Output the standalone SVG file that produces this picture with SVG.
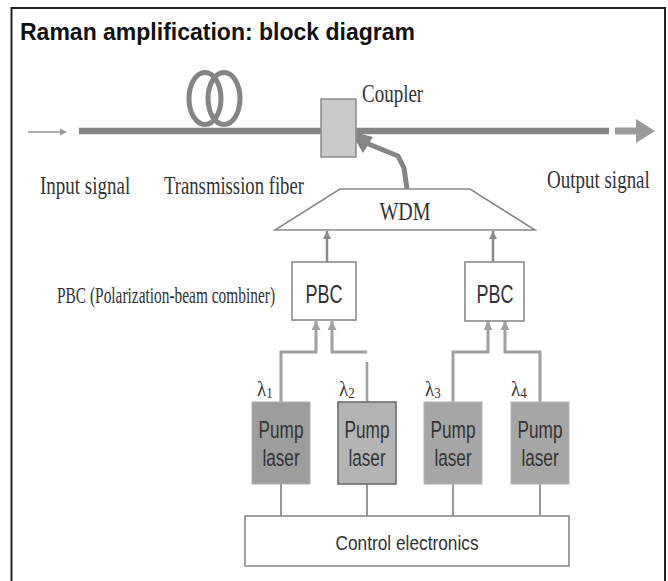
<svg xmlns="http://www.w3.org/2000/svg" width="668" height="581" viewBox="0 0 668 581">
<style>
.serif{font-family:"Liberation Serif","Times New Roman",serif;fill:#333;}
.sans{font-family:"Liberation Sans",Arial,sans-serif;fill:#333;}
.box{fill:#fff;stroke:#8a8a8a;stroke-width:1.6;}
.thin{fill:none;stroke:#9a9a9a;stroke-width:2;}
.feed{fill:none;stroke:#a0a0a0;stroke-width:3;}
.up{fill:none;stroke:#8a8a8a;stroke-width:2.5;}
</style>
<defs>
<marker id="ah" viewBox="0 0 10 10" refX="10" refY="5" markerWidth="3.2" markerHeight="3.2" orient="auto" markerUnits="strokeWidth">
<path d="M0,0 L10,5 L0,10 z" fill="#8a8a8a"/>
</marker>
<marker id="ah2" viewBox="0 0 10 10" refX="10" refY="5" markerWidth="3" markerHeight="3" orient="auto" markerUnits="strokeWidth">
<path d="M0,0 L10,5 L0,10 z" fill="#a0a0a0"/>
</marker>
</defs>
<rect x="0" y="0" width="668" height="581" fill="#fff"/>
<rect x="11.5" y="8" width="653.5" height="590" fill="none" stroke="#222" stroke-width="2"/>
<text x="20" y="40" class="sans" font-size="23" font-weight="bold" style="fill:#111">Raman amplification: block diagram</text>

<g id="connectors">
<line x1="28" y1="132" x2="62" y2="132" stroke="#9a9a9a" stroke-width="1.6"/>
<path d="M60,128.5 L67,132 L60,135.5 z" fill="#9a9a9a"/>
<line x1="79" y1="131" x2="609" y2="131" stroke="#858585" stroke-width="6.5"/>
<line x1="615" y1="131" x2="638" y2="131" stroke="#9a9a9a" stroke-width="7"/>
<path d="M636,119 L655,131 L636,143 z" fill="#9a9a9a"/>
<polyline points="407,189 404,168 398,156 366,143" fill="none" stroke="#858585" stroke-width="5" stroke-linejoin="round"/>
<path d="M350,131 L373,137 L363,153 z" fill="#858585"/>
<line x1="327" y1="262" x2="327" y2="231" class="up" marker-end="url(#ah)"/>
<line x1="493" y1="262" x2="493" y2="231" class="up" marker-end="url(#ah)"/>
<polyline points="281,402 281,352 316,352 316,321" class="feed" marker-end="url(#ah2)"/>
<polyline points="367,352 332,352 332,321" class="feed" marker-end="url(#ah2)"/>
<line x1="367" y1="362" x2="367" y2="402" stroke="#a0a0a0" stroke-width="2.6"/>
<polyline points="453,402 453,352 488,352 488,321" class="feed" marker-end="url(#ah2)"/>
<polyline points="540,402 540,352 505,352 505,321" class="feed" marker-end="url(#ah2)"/>
<line x1="281" y1="484" x2="281" y2="516" class="thin"/>
<line x1="367" y1="484" x2="367" y2="516" class="thin"/>
<line x1="453" y1="484" x2="453" y2="516" class="thin"/>
<line x1="540" y1="484" x2="540" y2="516" class="thin"/>
</g>

<g id="fiber-coil">
<ellipse cx="205" cy="98.5" rx="16" ry="26" fill="none" stroke="#858585" stroke-width="5"/>
<ellipse cx="224" cy="98.5" rx="16" ry="26" fill="none" stroke="#858585" stroke-width="5"/>
</g>

<g id="coupler">
<rect x="321" y="99" width="35" height="58" fill="#c9c9c9" stroke="#8a8a8a" stroke-width="1.5"/>
<text transform="translate(362,102) scale(1,1.3)" class="serif" font-size="19">Coupler</text>
</g>

<g id="labels">
<text transform="translate(40,194) scale(1,1.32)" class="serif" font-size="19">Input signal</text>
<text transform="translate(164,194) scale(1,1.32)" class="serif" font-size="18.7">Transmission fiber</text>
<text transform="translate(547,188) scale(1,1.3)" class="serif" font-size="19">Output signal</text>
<text transform="translate(57,303) scale(1,1.5)" class="serif" font-size="15.4">PBC (Polarization-beam combiner)</text>
</g>

<g id="wdm">
<path d="M340,189 L470,189 L535,230 L275,230 Z" fill="#fff" stroke="#8a8a8a" stroke-width="1.6"/>
<text transform="translate(405,220) scale(1,1.3)" class="serif" font-size="20" text-anchor="middle">WDM</text>
</g>

<g id="pbc1">
<rect x="292" y="262" width="64" height="58" class="box"/>
<text transform="translate(324,303) scale(1,1.45)" class="sans" font-size="18" text-anchor="middle">PBC</text>
</g>
<g id="pbc2">
<rect x="465" y="262" width="59" height="59" class="box"/>
<text transform="translate(495,303) scale(1,1.45)" class="sans" font-size="18" text-anchor="middle">PBC</text>
</g>

<g id="laser1">
<rect x="252" y="402" width="58" height="82" fill="#9d9d9d" stroke="#b0b0b0" stroke-width="1"/>
<text transform="translate(281,438) scale(1,1.35)" class="sans" font-size="17.2" text-anchor="middle">Pump</text>
<text transform="translate(281,466) scale(1,1.35)" class="sans" font-size="17.2" text-anchor="middle">laser</text>
<text transform="translate(257,396) scale(1,1.15)" class="serif" font-size="19">λ<tspan font-size="13" dy="2">1</tspan></text>
</g>
<g id="laser2">
<rect x="338" y="402" width="58" height="82" fill="#b4b4b4" stroke="#6e6e6e" stroke-width="1.6"/>
<text transform="translate(367,438) scale(1,1.35)" class="sans" font-size="17.2" text-anchor="middle">Pump</text>
<text transform="translate(367,466) scale(1,1.35)" class="sans" font-size="17.2" text-anchor="middle">laser</text>
<text transform="translate(339,396) scale(1,1.15)" class="serif" font-size="19">λ<tspan font-size="13" dy="2">2</tspan></text>
</g>
<g id="laser3">
<rect x="424" y="402" width="58" height="82" fill="#a6a6a6" stroke="#b4b4b4" stroke-width="1"/>
<text transform="translate(453,438) scale(1,1.35)" class="sans" font-size="17.2" text-anchor="middle">Pump</text>
<text transform="translate(453,466) scale(1,1.35)" class="sans" font-size="17.2" text-anchor="middle">laser</text>
<text transform="translate(425,396) scale(1,1.15)" class="serif" font-size="19">λ<tspan font-size="13" dy="2">3</tspan></text>
</g>
<g id="laser4">
<rect x="511" y="402" width="58" height="82" fill="#a6a6a6" stroke="#b4b4b4" stroke-width="1"/>
<text transform="translate(540,438) scale(1,1.35)" class="sans" font-size="17.2" text-anchor="middle">Pump</text>
<text transform="translate(540,466) scale(1,1.35)" class="sans" font-size="17.2" text-anchor="middle">laser</text>
<text transform="translate(511,396) scale(1,1.15)" class="serif" font-size="19">λ<tspan font-size="13" dy="2">4</tspan></text>
</g>

<g id="control">
<rect x="245" y="516" width="324" height="50" class="box"/>
<text transform="translate(407,550) scale(1,1.2)" class="sans" font-size="17.3" text-anchor="middle">Control electronics</text>
</g>
</svg>
